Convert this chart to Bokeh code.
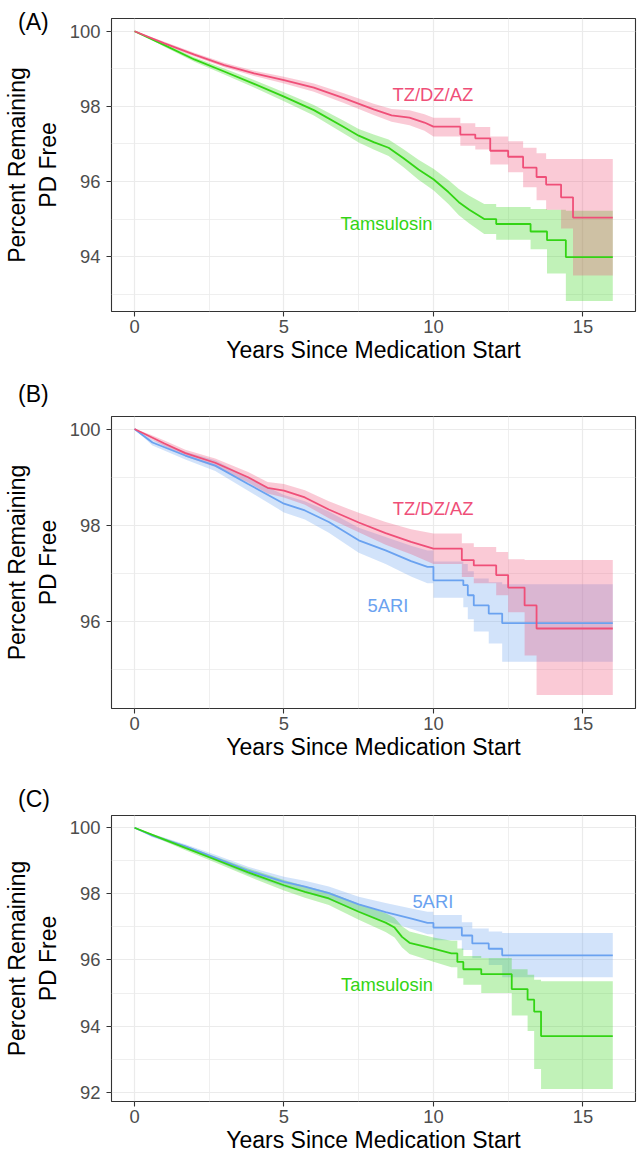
from bokeh.plotting import figure
from bokeh.layouts import column
from bokeh.models import Range1d, FixedTicker, Div
from bokeh.embed import file_html
from bokeh.resources import INLINE
from bokeh.core.properties import value

FONT = "Liberation Sans"
C_TZ = "#EF4F78"
C_TAM = "#33D414"
C_5ARI = "#6AA2F0"

X_LABEL = "Years Since Medication Start"
Y_LABEL = "Percent Remaining\nPD Free"
X_TICKS = [0, 5, 10, 15]
X_MINOR = [2.5, 7.5, 12.5]
X_RANGE = (-0.77, 16.76)
PANEL_LETTERS = ["(A)", "(B)", "(C)"]

# ---------------- Panel A: Tamsulosin vs TZ/DZ/AZ ----------------
a_tz_t = [0, 1, 2, 3, 4, 5, 6, 7, 8, 8.6, 9.2, 9.7, 10.0, 10.9, 11.4, 11.9, 12.5, 13.0, 13.45, 13.77, 14.27, 14.67, 16.0]
a_tz_s = [100, 99.68, 99.38, 99.10, 98.88, 98.70, 98.50, 98.22, 97.92, 97.76, 97.70, 97.57, 97.46, 97.25, 97.15, 96.82, 96.66, 96.37, 96.12, 95.92, 95.58, 95.04, 95.04]
a_tz_lo = [100, 99.64, 99.33, 99.04, 98.81, 98.61, 98.39, 98.09, 97.77, 97.59, 97.50, 97.35, 97.20, 96.95, 96.85, 96.45, 96.25, 95.85, 95.50, 95.25, 94.75, 93.50, 93.50]
a_tz_hi = [100, 99.72, 99.43, 99.16, 98.95, 98.79, 98.61, 98.35, 98.07, 97.93, 97.90, 97.79, 97.70, 97.55, 97.45, 97.20, 97.07, 96.90, 96.75, 96.60, 96.60, 96.60, 96.60]

a_tam_t = [0, 1, 2, 3, 4, 5, 6, 7, 7.5, 8, 8.5, 9, 9.5, 10, 10.5, 10.85, 11.2, 11.7, 12.1, 13.25, 13.8, 14.43, 16.0]
a_tam_s = [100, 99.63, 99.25, 98.93, 98.60, 98.26, 97.90, 97.45, 97.22, 97.05, 96.90, 96.62, 96.32, 96.06, 95.72, 95.45, 95.25, 95.00, 94.87, 94.67, 94.44, 93.99, 93.99]
a_tam_lo = [100, 99.59, 99.19, 98.85, 98.50, 98.14, 97.76, 97.28, 97.04, 96.85, 96.68, 96.38, 96.05, 95.77, 95.40, 95.10, 94.88, 94.60, 94.45, 94.20, 93.55, 92.82, 92.82]
a_tam_hi = [100, 99.67, 99.31, 99.01, 98.70, 98.38, 98.04, 97.62, 97.40, 97.25, 97.12, 96.86, 96.58, 96.34, 96.04, 95.80, 95.62, 95.40, 95.32, 95.27, 95.25, 95.22, 95.22]

# ---------------- Panel B: 5ARI vs TZ/DZ/AZ ----------------
b_tz_t = [0, 0.5, 1, 1.7, 2.7, 3.8, 4.45, 5, 5.7, 6.5, 7.5, 8.4, 9.25, 10, 10.95, 11.35, 12.1, 12.5, 13.05, 13.45, 16.0]
b_tz_s = [100, 99.85, 99.70, 99.50, 99.30, 99.00, 98.78, 98.72, 98.58, 98.33, 98.06, 97.84, 97.66, 97.52, 97.28, 97.17, 96.97, 96.71, 96.34, 95.86, 95.86]
b_tz_lo = [100, 99.81, 99.64, 99.43, 99.21, 98.89, 98.66, 98.58, 98.43, 98.15, 97.86, 97.60, 97.40, 97.20, 96.93, 96.80, 96.55, 96.20, 95.30, 94.48, 94.48]
b_tz_hi = [100, 99.89, 99.76, 99.57, 99.39, 99.11, 98.90, 98.86, 98.73, 98.50, 98.26, 98.07, 97.92, 97.83, 97.63, 97.55, 97.45, 97.30, 97.28, 97.28, 97.28]

b_5ari_t = [0, 0.6, 1.7, 2.7, 3.8, 5, 5.7, 6.5, 7.5, 8.4, 9.25, 9.8, 10.0, 11.0, 11.15, 11.35, 11.85, 12.3, 16.0]
b_5ari_s = [100, 99.72, 99.45, 99.24, 98.86, 98.45, 98.31, 98.07, 97.69, 97.48, 97.26, 97.14, 96.86, 96.76, 96.55, 96.34, 96.17, 95.97, 95.97]
b_5ari_lo = [100, 99.66, 99.37, 99.13, 98.72, 98.27, 98.12, 97.85, 97.43, 97.20, 96.94, 96.80, 96.50, 96.30, 96.05, 95.80, 95.55, 95.17, 95.17]
b_5ari_hi = [100, 99.78, 99.53, 99.35, 99.00, 98.63, 98.50, 98.29, 97.95, 97.76, 97.58, 97.48, 97.25, 97.20, 97.05, 96.90, 96.82, 96.78, 96.78]

# ---------------- Panel C: 5ARI vs Tamsulosin ----------------
c_5ari_t = [0, 0.6, 1.7, 2.7, 3.8, 5, 5.7, 6.5, 7.5, 8.4, 9.3, 9.8, 10.0, 10.95, 11.3, 11.85, 12.3, 16.0]
c_5ari_s = [100, 99.76, 99.44, 99.09, 98.70, 98.36, 98.22, 98.02, 97.68, 97.45, 97.24, 97.12, 96.98, 96.74, 96.50, 96.34, 96.14, 96.14]
c_5ari_lo = [100, 99.71, 99.38, 99.00, 98.58, 98.20, 98.04, 97.82, 97.45, 97.18, 96.93, 96.78, 96.60, 96.30, 96.05, 95.85, 95.48, 95.48]
c_5ari_hi = [100, 99.81, 99.50, 99.18, 98.82, 98.52, 98.40, 98.22, 97.91, 97.72, 97.55, 97.46, 97.36, 97.14, 96.95, 96.86, 96.82, 96.82]

c_tam_t = [0, 1, 1.7, 2.7, 3.8, 5, 5.7, 6.5, 7.5, 8.4, 8.7, 8.95, 9.2, 10.0, 10.6, 10.8, 11.0, 11.6, 12.62, 13.15, 13.37, 13.6, 16.0]
c_tam_s = [100, 99.64, 99.39, 99.04, 98.65, 98.26, 98.06, 97.86, 97.46, 97.13, 96.98, 96.70, 96.52, 96.34, 96.20, 95.94, 95.72, 95.57, 95.12, 94.80, 94.44, 93.70, 93.70]
c_tam_lo = [100, 99.59, 99.32, 98.95, 98.53, 98.10, 97.88, 97.66, 97.22, 96.85, 96.68, 96.38, 96.18, 95.95, 95.78, 95.45, 95.25, 95.00, 94.32, 93.85, 92.70, 92.10, 92.10]
c_tam_hi = [100, 99.69, 99.46, 99.13, 98.77, 98.42, 98.24, 98.06, 97.70, 97.41, 97.28, 97.02, 96.86, 96.68, 96.58, 96.35, 96.12, 96.06, 95.72, 95.55, 95.40, 95.36, 95.36]


def step_path(t, v, step_from):
    """Kaplan-Meier style path: values hold until the next event time
    once t >= step_from (dense early part is drawn as connected points)."""
    xs, ys = [t[0]], [v[0]]
    for i in range(1, len(t)):
        if t[i] >= step_from:
            xs.append(t[i])
            ys.append(v[i - 1])
        xs.append(t[i])
        ys.append(v[i])
    return xs, ys


FW = 524


def make_panel(y_rng, y_ticks, y_minor, series, labels,
               top, fh, bottom, lab_standoff, title_standoff):
    p = figure(frame_width=FW, frame_height=fh,
               min_border_left=110, min_border_right=4,
               min_border_top=top, min_border_bottom=bottom,
               x_range=Range1d(*X_RANGE), y_range=Range1d(*y_rng),
               output_backend="svg", toolbar_location=None)
    p.background_fill_color = "white"
    p.border_fill_color = "white"
    p.outline_line_color = "#333333"
    p.outline_line_width = 1.1

    p.xaxis.ticker = FixedTicker(ticks=X_TICKS, minor_ticks=X_MINOR)
    p.yaxis.ticker = FixedTicker(ticks=y_ticks, minor_ticks=y_minor)
    for ax in (p.xaxis[0], p.yaxis[0]):
        ax.axis_line_color = None
        ax.major_tick_line_color = "#333333"
        ax.major_tick_line_width = 1.1
        ax.major_tick_out = 5
        ax.major_tick_in = 0
        ax.minor_tick_line_color = None
        ax.major_label_text_font = FONT
        ax.major_label_text_font_size = "18.4px"
        ax.major_label_text_color = "#4d4d4d"
        ax.axis_label_text_font = FONT
        ax.axis_label_text_font_size = "23px"
        ax.axis_label_text_font_style = "normal"
        ax.axis_label_text_color = "black"
    p.xaxis.axis_label = X_LABEL
    p.yaxis.axis_label = Y_LABEL
    p.xaxis.major_label_standoff = lab_standoff
    p.xaxis.axis_label_standoff = title_standoff
    p.yaxis.major_label_standoff = 6
    p.yaxis.axis_label_standoff = 6

    p.grid.grid_line_color = "#EBEBEB"
    p.grid.grid_line_width = 1.2
    p.grid.minor_grid_line_color = "#EBEBEB"
    p.grid.minor_grid_line_width = 0.8

    paths = []
    for (t, s, lo, hi, color, step_from) in series:
        xs, ys = step_path(t, s, step_from)
        _, ylo = step_path(t, lo, step_from)
        _, yhi = step_path(t, hi, step_from)
        p.varea(x=xs, y1=ylo, y2=yhi, fill_color=color, fill_alpha=0.3)
        paths.append((xs, ys, color))
    for xs, ys, color in paths:
        p.line(xs, ys, line_color=color, line_width=1.8)

    ppu_y = fh / (y_rng[1] - y_rng[0])
    cap_half = 0.716 * 18.4 / 2.0
    for (lx, ly, txt, color) in labels:
        p.text(x=[lx], y=[ly - cap_half / ppu_y], text=[txt], text_color=color,
               text_font=value(FONT), text_font_size="18.4px",
               text_align="center", text_baseline="alphabetic")
    return p


def letter_div(text, top_gap):
    # zero net height: overlaps the top-left corner of the following panel
    return Div(text=text, width=40, height=26, margin=(top_gap, 0, -(top_gap + 26), 18),
               styles={"font-family": FONT, "font-size": "23px", "line-height": "26px",
                       "color": "black", "position": "relative", "z-index": "5"})


pA = make_panel((92.54, 100.34), [94, 96, 98, 100], [93, 95, 97, 99],
                [(a_tam_t, a_tam_s, a_tam_lo, a_tam_hi, C_TAM, 12.0),
                 (a_tz_t, a_tz_s, a_tz_lo, a_tz_hi, C_TZ, 10.5)],
                [(9.98, 98.5, "TZ/DZ/AZ", C_TZ), (8.43, 95.05, "Tamsulosin", C_TAM)],
                top=18, fh=293, bottom=70, lab_standoff=3, title_standoff=1)

pB = make_panel((94.2, 100.26), [96, 98, 100], [95, 97, 99],
                [(b_5ari_t, b_5ari_s, b_5ari_lo, b_5ari_hi, C_5ARI, 9.9),
                 (b_tz_t, b_tz_s, b_tz_lo, b_tz_hi, C_TZ, 10.5)],
                [(9.99, 98.48, "TZ/DZ/AZ", C_TZ), (8.48, 96.48, "5ARI", C_5ARI)],
                top=35, fh=292, bottom=78, lab_standoff=3, title_standoff=1)

pC = make_panel((91.72, 100.37), [92, 94, 96, 98, 100], [93, 95, 97, 99],
                [(c_5ari_t, c_5ari_s, c_5ari_lo, c_5ari_hi, C_5ARI, 9.9),
                 (c_tam_t, c_tam_s, c_tam_lo, c_tam_hi, C_TAM, 10.7)],
                [(9.98, 97.97, "5ARI", C_5ARI), (8.45, 95.46, "Tamsulosin", C_TAM)],
                top=29, fh=286, bottom=56, lab_standoff=3, title_standoff=1)

layout = column(letter_div(PANEL_LETTERS[0], 9), pA,
                letter_div(PANEL_LETTERS[1], 0), pB,
                letter_div(PANEL_LETTERS[2], 0), pC, spacing=0)
open("out.html", "w").write(file_html(layout, INLINE))
